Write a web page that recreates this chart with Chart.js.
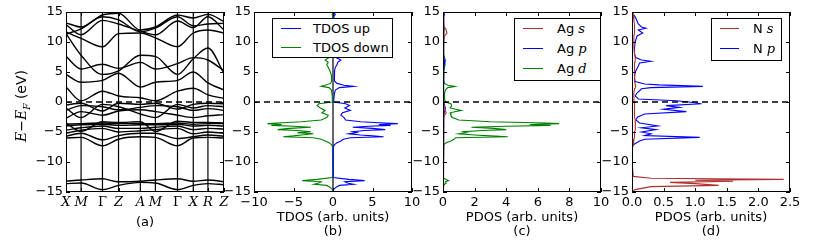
<!DOCTYPE html>
<html><head><meta charset="utf-8">
<script src="https://cdn.jsdelivr.net/npm/chart.js@4.4.1/dist/chart.umd.min.js"></script>
<style>
body{margin:0;background:#fff;}
#wrap{position:relative;width:830px;height:241px;overflow:hidden;font-family:"DejaVu Sans",sans-serif;color:#000;}
canvas{position:absolute;left:0;top:0;}
.leg{position:absolute;border:1px solid #000;background:#fff;box-sizing:border-box;}
.row{position:absolute;height:16px;font-size:13px;line-height:16px;white-space:nowrap;}
.sw{position:absolute;height:0;border-top:1.5px solid;}
.m{font-family:"DejaVu Serif",serif;font-style:italic;}
#ytitle{position:absolute;left:21px;top:106px;transform:translate(-50%,-50%) rotate(-90deg);white-space:nowrap;font-size:14px;line-height:16px;}
</style></head>
<body>
<div id="wrap">
<canvas id="ca" width="830" height="241"></canvas>
<canvas id="cb" width="830" height="241"></canvas>
<canvas id="cc" width="830" height="241"></canvas>
<canvas id="cd" width="830" height="241"></canvas>
<div id="ytitle"><span class="m">E</span>−<span class="m">E</span><sub class="m" style="font-size:9px;line-height:0">F</sub> (eV)</div>
</div>
<script>
// ---------- Panel (a): band structure ----------
const kLabels = ['X','M','Γ','Z','A','M','Γ','X','R','Z'];
const kPos = [0, 15, 36.3, 52.3, 74, 89, 111, 126.7, 141.3, 157.3];
const band01 = [-13.6, -13.5, -14.6, -13.9, -13.4, -13.5, -14.6, -13.9, -13.6, -13.8];
const band02 = [-13.2, -13.0, -12.8, -13.3, -13.2, -13.0, -12.8, -13.2, -13.0, -13.3];
const band03 = [-6.0, -5.9, -7.3, -6.2, -5.8, -5.9, -7.3, -6.0, -5.9, -6.0];
const band04 = [-5.7, -5.2, -6.3, -5.6, -5.2, -5.2, -6.1, -5.8, -5.5, -5.7];
const band05 = [-5.2, -4.7, -4.4, -5.0, -4.8, -4.6, -4.4, -5.3, -5.0, -5.2];
const band06 = [-4.7, -4.3, -4.0, -4.4, -4.4, -4.2, -4.0, -4.6, -4.4, -4.5];
const band07 = [-4.0, -3.8, -3.7, -3.9, -3.8, -3.8, -3.7, -4.0, -3.9, -4.0];
const band08 = [-3.7, -3.6, -3.5, -3.6, -3.6, -3.6, -3.5, -3.7, -3.6, -3.6];
const band09 = [-3.5, -4.9, -3.3, -3.4, -3.3, -4.9, -3.2, -3.4, -3.4, -3.5];
const band10 = [-2.7, -1.6, -2.2, -1.5, -1.3, -1.6, -2.2, -2.6, -2.3, -2.1];
const band11 = [-1.4, -0.6, -0.8, -1.3, -0.9, -0.6, -0.8, -1.4, -1.1, -1.4];
const band12 = [-1.0, -2.6, -0.4, -0.8, -2.0, -2.6, -0.4, -1.0, -0.6, -0.8];
const band13 = [-0.5, -0.2, -1.5, -0.2, -0.4, -0.2, -1.2, -0.4, -0.2, -0.3];
const band14 = [2.5, 0.2, 1.8, 1.0, 0.7, 0.2, 1.8, 2.3, 1.2, 0.6];
const band15 = [4.6, 3.3, 3.6, 4.8, 2.5, 3.3, 3.6, 5.0, 3.2, 2.0];
const band16 = [7.6, 5.5, 6.3, 5.6, 6.6, 5.5, 6.4, 7.4, 7.0, 5.2];
const band17 = [11.4, 7.8, 4.6, 5.2, 7.8, 7.6, 4.6, 7.2, 9.0, 4.8];
const band18 = [11.7, 10.6, 9.2, 11.4, 11.5, 10.7, 9.2, 11.5, 12.0, 11.5];
const band19 = [12.9, 11.2, 13.6, 13.0, 11.8, 11.2, 13.5, 12.4, 14.2, 12.0];
const band20 = [13.2, 12.5, 14.5, 14.8, 12.0, 12.5, 14.5, 14.0, 14.6, 13.4];
const band21 = [11.3, 12.2, 14.2, 13.7, 11.7, 12.3, 14.2, 12.7, 13.0, 13.1];
const bandList = [band01,band02,band03,band04,band05,band06,band07,band08,band09,band10,
  band11,band12,band13,band14,band15,band16,band17,band18,band19,band20,band21];

// ---------- Panel (b): total DOS ----------
const tdosE = [15, 14.6, 14.2, 13.5, 12.5, 12.2, 11.5, 11, 10, 9,
  8, 7.4, 7.0, 6.6, 6.2, 5.8, 5.2, 4.5, 4.0, 3.5,
  3.1, 2.8, 2.6, 2.4, 2.0, 1.5, 1.0, 0.5, 0.0, -0.3,
  -0.6, -1.0, -1.4, -1.8, -2.2, -2.6, -3.0, -3.3, -3.5, -3.6,
  -3.75, -3.9, -4.05, -4.2, -4.4, -4.6, -4.75, -4.95, -5.1, -5.3,
  -5.5, -5.65, -5.8, -5.95, -6.2, -6.5, -6.8, -7.1, -7.5, -8,
  -10, -12, -12.6, -12.9, -13.1, -13.3, -13.5, -13.7, -13.9, -14.2, -14.6, -15];
const tdosUp = [0, 0.3, 0.1, 0.05, 0.1, 0.2, 0.15, 0.1, 0.1, 0.15,
  0.2, 0.4, 1.0, 0.6, 0.5, 0.3, 0.2, 0.2, 0.15, 0.2,
  0.5, 1.4, 2.6, 0.8, 0.3, 0.2, 0.15, 0.1, 0.1, 1.6,
  2.1, 1.5, 2.2, 1.2, 1.0, 1.4, 1.6, 3.5, 6.5, 8.2,
  5.8, 7.3, 4.5, 2.5, 5.0, 6.6, 4.0, 2.5, 3.0, 2.0,
  3.5, 5.0, 6.4, 2.2, 1.3, 1.0, 0.5, 0.2, 0, 0,
  0, 0, 0.1, 2.0, 4.0, 1.5, 1.8, 2.6, 0.8, 0.4, 0.05, 0];
const tdosDown = [0, -0.1, -0.05, 0, -0.05, -0.1, -0.1, -0.05, -0.05, -0.15,
  -0.3, -0.5, -1.0, -0.6, -0.8, -0.6, -0.4, -0.2, -0.15, -0.2,
  -0.3, -1.0, -1.5, -0.5, -0.2, -0.15, -0.1, -0.05, -0.1, -1.8,
  -2.0, -1.6, -1.0, -1.4, -0.6, -0.8, -1.5, -4.0, -7.0, -8.3,
  -6.5, -7.8, -5.0, -2.8, -5.5, -7.0, -4.5, -2.8, -4.5, -2.5,
  -4.0, -5.0, -6.3, -2.5, -1.5, -1.0, -0.5, -0.2, 0, 0,
  0, 0, -0.1, -2.0, -3.9, -1.5, -1.8, -2.4, -0.8, -0.4, -0.05, 0];
const tdosLabels = ['TDOS up', 'TDOS down'];

// ---------- Panel (c): Ag PDOS (same energy grid as tdosE) ----------
const agS = [0, 0.05, 0.03, 0.03, 0.08, 0.18, 0.25, 0.1, 0.03, 0.02,
  0.02, 0.03, 0.04, 0.05, 0.03, 0.02, 0.02, 0.02, 0.02, 0.02,
  0.03, 0.05, 0.06, 0.04, 0.02, 0.02, 0.02, 0.02, 0.03, 0.05,
  0.08, 0.1, 0.15, 0.2, 0.1, 0.05, 0.04, 0.04, 0.05, 0.05,
  0.05, 0.05, 0.04, 0.04, 0.05, 0.06, 0.04, 0.03, 0.03, 0.03,
  0.04, 0.05, 0.06, 0.03, 0.02, 0.02, 0.01, 0, 0, 0,
  0, 0, 0.01, 0.04, 0.06, 0.03, 0.03, 0.04, 0.02, 0.01, 0, 0];
const agP = [0, 0.1, 0.05, 0.04, 0.05, 0.06, 0.05, 0.04, 0.03, 0.03,
  0.03, 0.05, 0.08, 0.12, 0.05, 0.04, 0.03, 0.03, 0.03, 0.03,
  0.04, 0.05, 0.06, 0.04, 0.03, 0.03, 0.03, 0.03, 0.04, 0.08,
  0.1, 0.15, 0.12, 0.08, 0.05, 0.04, 0.04, 0.04, 0.05, 0.06,
  0.05, 0.05, 0.04, 0.03, 0.04, 0.04, 0.03, 0.03, 0.03, 0.03,
  0.03, 0.03, 0.04, 0.03, 0.02, 0.02, 0.01, 0, 0, 0,
  0, 0, 0.01, 0.02, 0.03, 0.02, 0.02, 0.02, 0.01, 0, 0, 0];
const agD = [0, 0.02, 0.02, 0.03, 0.05, 0.08, 0.05, 0.05, 0.03, 0.03,
  0.05, 0.1, 0.15, 0.1, 0.1, 0.1, 0.05, 0.05, 0.05, 0.05,
  0.1, 0.3, 0.75, 0.3, 0.15, 0.1, 0.1, 0.1, 0.15, 0.5,
  0.55, 0.45, 1.15, 0.45, 0.5, 0.6, 1.0, 3.0, 6.5, 7.35,
  5.5, 6.8, 4.0, 1.8, 3.2, 4.0, 2.5, 1.3, 1.5, 1.0,
  2.0, 3.0, 4.1, 0.8, 0.7, 0.5, 0.2, 0.05, 0, 0,
  0, 0, 0.05, 0.2, 0.35, 0.15, 0.2, 0.1, 0.05, 0.02, 0, 0];
const agOrbitals = ['s', 'p', 'd'];

// ---------- Panel (d): N PDOS ----------
const nE = [15, 14.6, 14.2, 13.5, 13.0, 12.5, 12.3, 12.0, 11.5, 11.0,
  10, 9, 8, 7.4, 7.0, 6.8, 6.5, 6.0, 5.0, 4.0,
  3.4, 3.0, 2.85, 2.6, 2.4, 2.2, 1.5, 1.0, 0.5, 0.2,
  0.0, -0.3, -0.6, -0.9, -1.2, -1.6, -2.0, -2.5, -3.0, -3.5,
  -4.0, -4.3, -4.6, -5.0, -5.3, -5.6, -5.9, -6.2, -6.5, -7.0,
  -7.5, -10, -12.4, -12.7, -12.9, -13.05, -13.2, -13.4, -13.6, -13.9,
  -14.1, -14.6, -15];
const nS = [0, 0.02, 0.03, 0.03, 0.04, 0.04, 0.04, 0.04, 0.04, 0.03,
  0.03, 0.03, 0.04, 0.05, 0.05, 0.05, 0.04, 0.04, 0.04, 0.04,
  0.04, 0.05, 0.06, 0.06, 0.05, 0.04, 0.03, 0.03, 0.03, 0.03,
  0.03, 0.04, 0.04, 0.04, 0.04, 0.04, 0.04, 0.04, 0.05, 0.05,
  0.06, 0.05, 0.05, 0.04, 0.04, 0.04, 0.04, 0.03, 0.03, 0.02,
  0.01, 0, 0.02, 0.3, 2.4, 1.0, 1.6, 0.6, 1.0, 1.37,
  0.3, 0.05, 0];
const nP = [0, 0.02, 0.05, 0.08, 0.1, 0.15, 0.22, 0.1, 0.17, 0.08,
  0.05, 0.04, 0.04, 0.06, 0.15, 0.3, 0.12, 0.1, 0.05, 0.04,
  0.05, 0.2, 0.43, 1.12, 0.3, 0.15, 0.08, 0.05, 0.1, 0.7,
  0.9, 1.1, 0.54, 0.75, 0.5, 0.86, 0.2, 0.09, 0.06, 0.12,
  0.41, 0.15, 0.38, 0.15, 0.3, 0.2, 1.07, 0.2, 0.12, 0.04,
  0, 0, 0, 0, 0.01, 0.01, 0.01, 0.01, 0.01, 0.01,
  0, 0, 0];
const nOrbitals = ['s', 'p'];

// ---------- styling / helpers ----------
const BLUE = '#0000ff', GREEN = '#008000', RED = '#b03030', BLACK = '#000000';
const FONT = {family: 'DejaVu Sans', size: 13};
const TFONT = {family: 'DejaVu Sans', size: 13, lineHeight: 1.1};
const fmtMinus = v => String(v).replace('-', '\u2212');
const W_Y = 40;

const frameTicks = {
  id: 'frameTicks',
  afterDraw(chart) {
    const {ctx, chartArea: a} = chart;
    const xs = chart.scales.x, ys = chart.scales.y, L = 4;
    ctx.save();
    ctx.strokeStyle = '#000'; ctx.lineWidth = 1;
    ctx.beginPath();
    xs.ticks.forEach(t => {
      const p = Math.round(xs.getPixelForValue(t.value)) + 0.5;
      ctx.moveTo(p, a.bottom); ctx.lineTo(p, a.bottom - L);
      ctx.moveTo(p, a.top); ctx.lineTo(p, a.top + L);
    });
    ys.ticks.forEach(t => {
      const p = Math.round(ys.getPixelForValue(t.value)) + 0.5;
      ctx.moveTo(a.left, p); ctx.lineTo(a.left + L, p);
      ctx.moveTo(a.right, p); ctx.lineTo(a.right - L, p);
    });
    ctx.stroke();
    ctx.strokeRect(Math.round(a.left) + 0.5, Math.round(a.top) + 0.5, Math.round(a.width) - 1, Math.round(a.height) - 1);
    ctx.restore();
  }
};

function opts(plotLeft, plotRight, xScale, title, padBottom) {
  return {
    responsive: false, animation: false, devicePixelRatio: 1,
    layout: {padding: {left: plotLeft - W_Y, right: 830 - plotRight, top: 12, bottom: 0}},
    plugins: {legend: {display: false}, tooltip: {enabled: false}},
    elements: {point: {radius: 0, hoverRadius: 0}},
    scales: {
      x: Object.assign({
        type: 'linear',
        grid: {display: false, drawTicks: false},
        border: {display: false},
        afterFit(s) { s.height = 49; },
        title: {display: true, text: title, color: '#000', font: TFONT, padding: {top: 0, bottom: padBottom}}
      }, xScale),
      y: {
        type: 'linear', min: -15, max: 15,
        grid: {display: false, drawTicks: false},
        border: {display: false},
        afterFit(s) { s.width = W_Y; },
        ticks: {stepSize: 5, color: '#000', font: FONT, padding: 3, callback: v => fmtMinus(v)}
      }
    }
  };
}

function line(data, color, width, extra) {
  return Object.assign({data, borderColor: color, backgroundColor: color, borderWidth: width,
    fill: false, pointRadius: 0, tension: 0}, extra || {});
}
const pts = (xs, ys) => xs.map((x, i) => ({x, y: ys[i]}));
function zeroDash(x0, x1) { return line([{x: x0, y: 0}, {x: x1, y: 0}], BLACK, 1.5, {borderDash: [6, 4]}); }

// ---- (a)
const aSets = [];
kPos.slice(1, -1).forEach(k => aSets.push(line([{x: k, y: -15}, {x: k, y: 15}], BLACK, 1.2)));
aSets.push(zeroDash(kPos[0], kPos[kPos.length - 1]));
bandList.forEach(b => aSets.push(line(pts(kPos, b), BLACK, 1.4, {cubicInterpolationMode: 'monotone'})));
new Chart(document.getElementById('ca'), {
  type: 'line', data: {datasets: aSets}, plugins: [frameTicks],
  options: opts(66, 224, {
    min: kPos[0], max: kPos[kPos.length - 1],
    afterBuildTicks(s) { s.ticks = kPos.map(v => ({value: v})); },
    ticks: {autoSkip: false, maxRotation: 0, padding: 3, color: '#000',
      font: c => ({family: 'DejaVu Serif', size: 13, style: kLabels[c.index] === 'Γ' ? 'normal' : 'italic'}),
      callback: (v, i) => kLabels[i]}
  }, '(a)', 11)
});

// ---- (b)
new Chart(document.getElementById('cb'), {
  type: 'line', plugins: [frameTicks],
  data: {datasets: [
    zeroDash(-10, 10),
    line(pts(tdosUp, tdosE), BLUE, 1.1),
    line(pts(tdosDown, tdosE), GREEN, 1.1),
    line([{x: 0, y: -15}, {x: 0, y: 15}], BLACK, 1.2)
  ]},
  options: opts(254, 412, {min: -10, max: 10,
    ticks: {stepSize: 5, color: '#000', font: FONT, padding: 3, maxRotation: 0, callback: v => fmtMinus(v)}},
    ['TDOS (arb. units)', '(b)'], 2)
});

// ---- (c)
new Chart(document.getElementById('cc'), {
  type: 'line', plugins: [frameTicks],
  data: {datasets: [
    zeroDash(0, 10),
    line(pts(agS, tdosE), RED, 1.1),
    line(pts(agP, tdosE), BLUE, 1.1),
    line(pts(agD, tdosE), GREEN, 1.1)
  ]},
  options: opts(443, 601, {min: 0, max: 10,
    ticks: {stepSize: 2, color: '#000', font: FONT, padding: 3, maxRotation: 0}},
    ['PDOS (arb. units)', '(c)'], 2)
});

// ---- (d)
new Chart(document.getElementById('cd'), {
  type: 'line', plugins: [frameTicks],
  data: {datasets: [
    zeroDash(0, 2.5),
    line(pts(nS, nE), RED, 1.1),
    line(pts(nP, nE), BLUE, 1.1)
  ]},
  options: opts(632, 790, {min: 0, max: 2.5,
    ticks: {stepSize: 0.5, color: '#000', font: FONT, padding: 3, maxRotation: 0, callback: v => Number(v).toFixed(1)}},
    ['PDOS (arb. units)', '(d)'], 2)
});

// ---------- HTML legends ----------
const wrap = document.getElementById('wrap');
function buildLegend(box, rows, lineX, lineW, textX, rowYs) {
  const d = document.createElement('div'); d.className = 'leg';
  Object.assign(d.style, {left: box[0] + 'px', top: box[1] + 'px', width: box[2] + 'px', height: box[3] + 'px'});
  rows.forEach((r, i) => {
    const sw = document.createElement('div'); sw.className = 'sw';
    Object.assign(sw.style, {left: (lineX - box[0] - 1) + 'px', width: lineW + 'px', top: (rowYs[i] - box[1] - 2) + 'px', borderTopColor: r.color});
    const t = document.createElement('div'); t.className = 'row';
    t.innerHTML = r.html;
    Object.assign(t.style, {left: (textX - box[0] - 1) + 'px', top: (rowYs[i] - box[1] - 9) + 'px'});
    d.appendChild(sw); d.appendChild(t);
  });
  wrap.appendChild(d);
}
buildLegend([272, 18, 121, 40], tdosLabels.map((l, i) => ({html: l, color: [BLUE, GREEN][i]})), 281, 20, 313, [29, 48]);
buildLegend([514, 18, 87, 63], agOrbitals.map((o, i) => ({html: 'Ag <span class="m">' + o + '</span>', color: [RED, BLUE, GREEN][i]})), 523, 20, 557, [29, 49, 69]);
buildLegend([711, 18, 71, 43], nOrbitals.map((o, i) => ({html: 'N <span class="m">' + o + '</span>', color: [RED, BLUE][i]})), 720, 19, 753, [29, 49]);
</script>
</body></html>
